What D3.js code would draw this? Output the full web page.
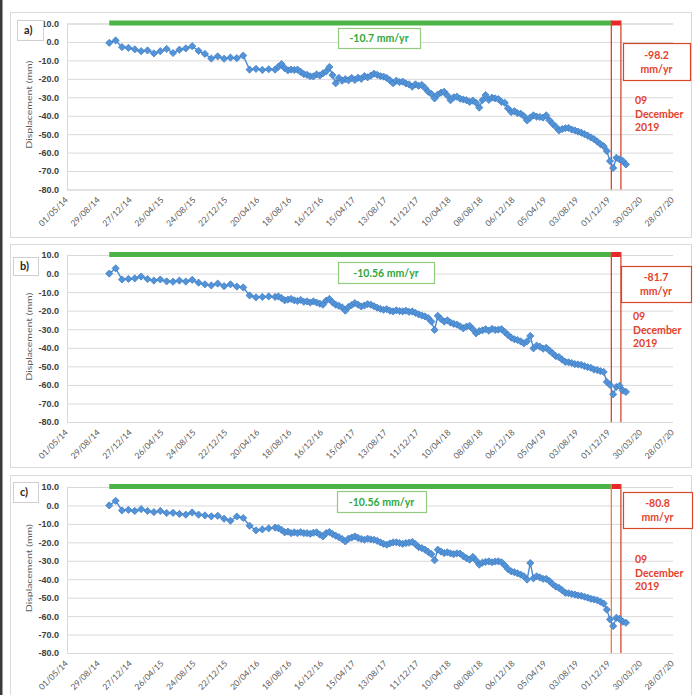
<!DOCTYPE html>
<html><head><meta charset="utf-8">
<script src="https://cdn.jsdelivr.net/npm/d3@7"></script>
<style>
body{margin:0;background:#fff}
svg{display:block}
text{font-family:Lato,"Open Sans","Liberation Sans",sans-serif}
</style>
</head><body>
<svg id="chart" width="696" height="695"></svg>
<script>
// ---------------- DATA ----------------
const dates = [
"2014-10-07","2014-10-31","2014-11-24","2014-12-18","2015-01-11","2015-02-04","2015-02-28","2015-03-24","2015-04-17","2015-05-11",
"2015-06-04","2015-06-28","2015-07-22","2015-08-15","2015-09-08","2015-10-02","2015-10-26","2015-11-19","2015-12-13","2016-01-06",
"2016-01-30","2016-02-23","2016-03-18","2016-04-11","2016-05-05","2016-05-29","2016-06-22",
"2016-07-04","2016-07-16","2016-07-28","2016-08-09","2016-08-21","2016-09-02","2016-09-14","2016-09-26","2016-10-08","2016-10-20",
"2016-11-01","2016-11-13","2016-11-25","2016-12-07","2016-12-19","2016-12-31",
"2017-01-12","2017-01-24","2017-02-05","2017-02-17","2017-03-01","2017-03-13","2017-03-25","2017-04-06","2017-04-18","2017-04-30",
"2017-05-12","2017-05-24","2017-06-05","2017-06-17","2017-06-29","2017-07-11","2017-07-23","2017-08-04","2017-08-16","2017-08-28",
"2017-09-09","2017-09-21","2017-10-03","2017-10-15","2017-10-27","2017-11-08","2017-11-20","2017-12-02","2017-12-14","2017-12-26",
"2018-01-07","2018-01-19","2018-01-31","2018-02-12","2018-02-24","2018-03-08","2018-03-20","2018-04-01","2018-04-13","2018-04-25",
"2018-05-07","2018-05-19","2018-05-31","2018-06-12","2018-06-24","2018-07-06","2018-07-18","2018-07-30","2018-08-11","2018-08-23",
"2018-09-04","2018-09-16","2018-09-28","2018-10-10","2018-10-22","2018-11-03","2018-11-15","2018-11-27","2018-12-09","2018-12-21",
"2019-01-02","2019-01-14","2019-01-26","2019-02-07","2019-02-19","2019-03-03","2019-03-15","2019-03-27","2019-04-08","2019-04-20",
"2019-05-02","2019-05-14","2019-05-26","2019-06-07","2019-06-19","2019-07-01","2019-07-13","2019-07-25","2019-08-06","2019-08-18",
"2019-08-30","2019-09-11","2019-09-23","2019-10-05","2019-10-17","2019-10-29","2019-11-10","2019-11-22","2019-12-04","2019-12-16",
"2019-12-28","2020-01-09","2020-01-21","2020-02-02"
];

const seriesA = [
-0.5,0.8,-2.8,-3.2,-4.0,-5.0,-4.6,-6.2,-5.0,-3.8,-6.0,-4.2,-3.5,-2.3,-4.8,-6.5,-9.0,-7.8,-9.1,-8.5,-8.8,-7.4,-15.0,-14.6,-15.2,-14.8,-15.0,
-13.5,-12.0,-14.2,-15.4,-15.0,-15.2,-15.0,-16.2,-17.4,-17.8,
-18.6,-18.7,-17.6,-18.2,-17.0,-16.0,-13.6,-18.0,-22.4,-19.5,
-21.0,-20.2,-20.8,-19.5,-20.6,-19.4,-20.0,-18.5,-19.2,-18.3,
-17.2,-17.8,-18.5,-18.8,-19.5,-20.8,-22.4,-21.0,-21.8,-21.5,
-22.5,-23.0,-24.2,-23.0,-23.8,-23.3,-25.0,-27.0,-28.2,-30.6,
-28.5,-27.5,-27.0,-29.0,-31.6,-30.0,-29.7,-30.8,-31.2,-31.6,
-32.5,-31.8,-33.0,-35.6,-31.5,-28.8,-31.4,-30.2,-30.6,-31.0,
-32.5,-33.0,-36.0,-38.0,-37.5,-38.6,-38.9,-40.2,-42.6,-41.0,
-39.8,-40.5,-40.7,-41.0,-39.8,-42.5,-44.4,-46.0,-48.0,-47.2,
-46.8,-46.6,-47.5,-48.0,-48.6,-49.2,-50.0,-50.8,-51.8,-52.7,
-54.0,-55.4,-56.5,-59.1,-64.6,-68.3,-62.8,-63.7,-64.5,-66.4
];

const seriesB = [
0.0,2.8,-3.2,-2.9,-2.6,-1.6,-3.0,-3.8,-3.2,-4.2,-4.4,-3.8,-4.3,-3.4,-4.9,-5.8,-6.4,-5.4,-6.8,-5.8,-7.0,-7.5,-11.8,-12.8,-12.6,-12.3,-12.6,
-12.3,-13.2,-14.4,-14.0,-13.7,-14.4,-14.8,-14.2,-15.2,-15.0,
-15.6,-15.0,-15.6,-16.2,-16.8,-14.6,-13.7,-15.5,-16.8,-17.4,
-18.2,-20.0,-18.0,-17.0,-15.9,-16.8,-17.7,-17.2,-16.5,-16.8,
-17.6,-18.4,-19.0,-19.5,-19.2,-20.0,-20.4,-19.8,-20.2,-20.4,
-20.0,-20.6,-20.4,-21.2,-22.0,-22.6,-23.1,-24.0,-25.9,-30.4,
-22.8,-24.5,-25.9,-25.2,-26.4,-27.1,-27.5,-28.4,-29.5,-28.6,
-28.2,-30.0,-32.2,-31.0,-30.6,-30.0,-30.8,-29.8,-30.4,-30.2,
-30.0,-31.5,-33.1,-34.5,-35.4,-35.8,-36.6,-37.6,-36.5,-33.6,
-40.3,-38.8,-39.4,-40.5,-40.0,-41.5,-43.0,-44.5,-45.0,-46.4,
-47.6,-47.8,-48.2,-48.8,-49.0,-49.2,-49.9,-50.4,-50.8,-51.7,
-52.0,-52.6,-53.0,-58.4,-60.0,-65.1,-61.1,-60.5,-63.0,-63.8
];

const seriesC = [
0.0,2.5,-2.7,-2.4,-3.0,-2.0,-3.0,-3.6,-3.0,-4.1,-4.0,-4.6,-5.0,-3.8,-5.0,-5.4,-5.9,-5.6,-7.2,-8.3,-6.0,-6.8,-11.0,-13.5,-13.0,-12.4,-12.0,
-12.3,-13.2,-14.6,-14.2,-15.0,-14.6,-15.0,-14.5,-15.0,-15.0,
-15.4,-14.8,-14.6,-15.8,-16.8,-15.0,-14.4,-15.5,-16.4,-17.2,
-18.2,-19.5,-18.0,-17.4,-16.8,-17.6,-18.2,-18.6,-18.0,-18.4,
-18.6,-19.2,-20.0,-20.8,-21.3,-20.6,-20.0,-20.0,-20.4,-20.8,
-20.4,-20.2,-19.8,-21.0,-22.6,-23.1,-24.0,-25.2,-26.4,-29.7,
-24.0,-25.0,-25.8,-25.4,-26.0,-26.4,-26.0,-26.1,-27.5,-28.6,
-29.4,-27.9,-29.8,-32.1,-31.0,-30.6,-30.3,-30.8,-30.4,-30.3,
-30.8,-32.5,-34.5,-35.7,-36.2,-36.8,-37.5,-38.4,-40.2,-31.2,
-39.5,-38.4,-39.0,-39.8,-39.8,-41.0,-42.6,-44.0,-44.7,-46.0,
-47.4,-47.6,-48.0,-48.3,-48.8,-49.0,-49.5,-50.0,-50.6,-51.0,
-51.4,-52.2,-53.2,-56.5,-61.8,-65.4,-60.9,-61.5,-63.0,-63.6
];

const panelLabels = ["a)", "b)", "c)"];
const linearRates = ["-10.7 mm/yr", "-10.56 mm/yr", "-10.56 mm/yr"];
const eventRates = ["-98.2", "-81.7", "-80.8"];
const rateUnit = "mm/yr";
const eventText = ["09", "December", "2019"];
const yTitle = "Displacement (mm)";
const yTicks = [10, 0, -10, -20, -30, -40, -50, -60, -70, -80];
const xTickLabels = ["01/05/14","29/08/14","27/12/14","26/04/15","24/08/15","22/12/15","20/04/16","18/08/16","16/12/16","15/04/17",
  "13/08/17","11/12/17","10/04/18","08/08/18","06/12/18","05/04/19","03/08/19","01/12/19","30/03/20","28/07/20"];
const periodStart = "2014-10-07";
const eventDate = "2019-12-09";
const periodEnd = "2020-01-14";

// ---------------- LAYOUT ----------------
const parseISO = d3.timeParse("%Y-%m-%d");
const parseTick = d3.timeParse("%d/%m/%y");
const fmtTick = d3.timeFormat("%d/%m/%y");
const allSeries = [seriesA, seriesB, seriesC];

const panels = [
  {yTop: 23.5, yBot: 189.5, boxTop: 12, boxBot: 237, lab: [17, 20, 26, 20], gbox: [338, 28, 82, 20], rbox: [623, 43, 67, 37], evX: 635, evY: 100, line1: "#d9472b"},
  {yTop: 255, yBot: 422, boxTop: 244, boxBot: 467, lab: [13, 257, 25, 18], gbox: [338, 262, 96, 21], rbox: [621, 266, 70, 36], evX: 633, evY: 316, line1: "#d9472b"},
  {yTop: 487, yBot: 653, boxTop: 475, boxBot: 700, lab: [13, 482, 25, 20], gbox: [337, 491, 89, 21], rbox: [623, 492, 69, 36], evX: 635, evY: 559, line1: "#ef7e3c"}
];

const svg = d3.select("#chart");
svg.append("rect").attr("x", 0).attr("y", 0).attr("width", 696).attr("height", 695).attr("fill", "#fff");
svg.append("rect").attr("x", 0).attr("y", 0).attr("width", 2.5).attr("height", 695).attr("fill", "#3a3a3a");

const x = d3.scaleTime()
  .domain([parseTick(xTickLabels[0]), parseTick(xTickLabels[xTickLabels.length - 1])])
  .range([67, 673]);

const gray = "#d9d9d9";
const blue = "#4a8ad2";
const green = "#4cb447";
const red = "#e4422b";

panels.forEach((p, k) => {
  const g = svg.append("g");
  const y = d3.scaleLinear().domain([-80, 10]).range([p.yBot, p.yTop]);
  const data = dates.map((d, i) => ({date: parseISO(d), v: allSeries[k][i]}));

  // frame
  g.append("rect").attr("x", 10.5).attr("y", p.boxTop + 0.5)
    .attr("width", 681).attr("height", p.boxBot - p.boxTop)
    .attr("fill", "none").attr("stroke", gray).attr("stroke-width", 1);

  // y title
  const ty = y(-34);
  g.append("text").attr("transform", `translate(32,${ty}) rotate(-90)`)
    .attr("text-anchor", "middle").attr("textLength", 88).attr("lengthAdjust", "spacingAndGlyphs")
    .attr("fill", "#595959").style("font-size", "8px").text(yTitle);

  // y axis with gridlines
  const yAxis = d3.axisLeft(y).tickValues(yTicks).tickSize(-(673 - 67)).tickPadding(8)
    .tickFormat(d => d.toFixed(1));
  const ya = g.append("g").attr("transform", "translate(67,0)").call(yAxis);
  ya.select(".domain").attr("stroke", gray);
  ya.selectAll(".tick line").attr("stroke", gray).attr("stroke-width", 1);
  ya.selectAll(".tick text").attr("fill", "#404040").style("font-size", "9.5px").style("font-weight", "700")
    .style("font-family", "'Liberation Sans', Arial, sans-serif").style("font-size", "9px");

  // x axis
  const xAxis = d3.axisBottom(x).tickValues(xTickLabels.map(parseTick)).tickSize(0).tickFormat(fmtTick);
  const xa = g.append("g").attr("transform", `translate(0,${p.yBot})`).call(xAxis);
  xa.select(".domain").remove();
  xa.selectAll(".tick text")
    .attr("y", 0).attr("x", 0).attr("dy", "0.35em")
    .attr("text-anchor", "end")
    .attr("transform", "translate(-1,9) rotate(-45)")
    .attr("fill", "#595959").style("font-size", "8.5px");

  // panel label box
  g.append("rect").attr("x", p.lab[0] + 0.5).attr("y", p.lab[1] + 0.5).attr("width", p.lab[2]).attr("height", p.lab[3])
    .attr("fill", "#fff").attr("stroke", "#cfcfcf");
  g.append("text").attr("x", p.lab[0] + 7).attr("y", p.lab[1] + p.lab[3] / 2 + 4)
    .attr("fill", "#262626").style("font-size", "11px").style("font-weight", "700").text(panelLabels[k]);

  // period bars
  const barY = y(10);
  g.append("rect").attr("x", x(parseISO(periodStart))).attr("y", barY - 3)
    .attr("width", x(parseISO(eventDate)) - x(parseISO(periodStart))).attr("height", 5).attr("fill", green);
  g.append("rect").attr("x", x(parseISO(eventDate))).attr("y", barY - 3)
    .attr("width", x(parseISO(periodEnd)) - x(parseISO(eventDate))).attr("height", 5).attr("fill", "#e8262b");

  // vertical event lines
  g.append("line").attr("x1", x(parseISO(eventDate))).attr("x2", x(parseISO(eventDate)))
    .attr("y1", barY - 3).attr("y2", p.yBot).attr("stroke", p.line1).attr("stroke-width", 1.3);
  g.append("line").attr("x1", x(parseISO(periodEnd))).attr("x2", x(parseISO(periodEnd)))
    .attr("y1", barY - 3).attr("y2", p.yBot).attr("stroke", "#d9472b").attr("stroke-width", 1.3);

  // data line
  const line = d3.line().x(d => x(d.date)).y(d => y(d.v));
  g.append("path").datum(data).attr("d", line).attr("fill", "none")
    .attr("stroke", blue).attr("stroke-width", 1.4);
  // markers (diamonds)
  const sym = d3.symbol(d3.symbolSquare, 26);
  g.selectAll(".mk").data(data).enter().append("path")
    .attr("d", sym)
    .attr("transform", d => `translate(${x(d.date)},${y(d.v)}) rotate(45)`)
    .attr("fill", "#5394d8").attr("stroke", "#3f7cc2").attr("stroke-width", 0.7);

  // linear rate box
  g.append("rect").attr("x", p.gbox[0] + 0.5).attr("y", p.gbox[1] + 0.5).attr("width", p.gbox[2]).attr("height", p.gbox[3])
    .attr("fill", "#fff").attr("stroke", "#93cc7e").attr("stroke-width", 1.2);
  g.append("text").attr("x", p.gbox[0] + p.gbox[2] / 2).attr("y", p.gbox[1] + p.gbox[3] / 2 + 4)
    .attr("text-anchor", "middle").attr("fill", "#2fa83a").style("font-size", "10.5px").style("font-weight", "700")
    .text(linearRates[k]);

  // event rate box
  g.append("rect").attr("x", p.rbox[0] + 0.5).attr("y", p.rbox[1] + 0.5).attr("width", p.rbox[2]).attr("height", p.rbox[3])
    .attr("fill", "#fff").attr("stroke", "#d9472b").attr("stroke-width", 1.2);
  const cx = p.rbox[0] + p.rbox[2] / 2;
  g.append("text").attr("x", cx).attr("y", p.rbox[1] + p.rbox[3] / 2 - 3)
    .attr("text-anchor", "middle").attr("fill", red).style("font-size", "10.5px").style("font-weight", "700")
    .text(eventRates[k]);
  g.append("text").attr("x", cx).attr("y", p.rbox[1] + p.rbox[3] / 2 + 11)
    .attr("text-anchor", "middle").attr("fill", red).style("font-size", "10.5px").style("font-weight", "700")
    .text(rateUnit);

  // event date text
  eventText.forEach((t, i) => {
    g.append("text").attr("x", p.evX).attr("y", p.evY + 4 + i * 13.5)
      .attr("fill", red).style("font-size", "10.5px").style("font-weight", "700").text(t);
  });
});
</script>
</body></html>
